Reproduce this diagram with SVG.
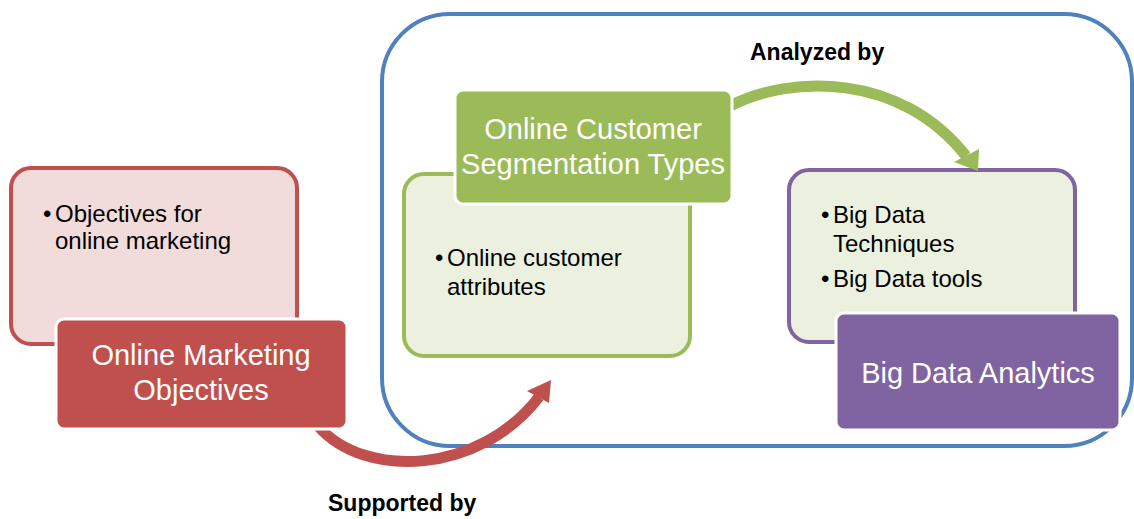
<svg xmlns="http://www.w3.org/2000/svg" width="1134" height="519" viewBox="0 0 1134 519">
  <style>
    .back { stroke-width: 4; }
    .front { stroke: #FFFFFF; stroke-width: 3; }
    .title { font-family: "Liberation Sans", Arial, sans-serif; font-size: 29px; fill: #FFFFFF; text-anchor: middle; }
    .item { font-family: "Liberation Sans", Arial, sans-serif; font-size: 24px; fill: #000000; }
    .label { font-family: "Liberation Sans", Arial, sans-serif; font-size: 23px; font-weight: bold; fill: #000000; }
    .conn { fill: none; stroke-width: 11; }
  </style>

  <rect width="1134" height="519" fill="#FFFFFF"/>

  <!-- container around segmentation and analytics -->
  <g id="container">
    <rect x="382" y="14" width="750" height="432" rx="68" ry="68" fill="none" stroke="#4F81BD" stroke-width="4"/>
  </g>

  <!-- detail panels -->
  <g id="objectives-detail">
    <rect class="back" x="11" y="168" width="286" height="176" rx="20" ry="20" fill="#F2DCDB" stroke="#C0504D"/>
    <text class="item"><tspan x="43" y="222">•</tspan><tspan x="55" y="222">Objectives for</tspan></text>
    <text class="item" x="55" y="249">online marketing</text>
  </g>

  <g id="segmentation-detail">
    <rect class="back" x="404" y="174" width="286" height="182" rx="20" ry="20" fill="#EBF1DE" stroke="#9BBB59"/>
    <text class="item"><tspan x="435" y="266">•</tspan><tspan x="447" y="266">Online customer</tspan></text>
    <text class="item" x="447" y="295">attributes</text>
  </g>

  <g id="analytics-detail">
    <rect class="back" x="789" y="170" width="286" height="172" rx="20" ry="20" fill="#EBF1DE" stroke="#8064A2"/>
    <text class="item"><tspan x="821" y="223">•</tspan><tspan x="833" y="223">Big Data</tspan></text>
    <text class="item" x="833" y="252">Techniques</text>
    <text class="item"><tspan x="821" y="287">•</tspan><tspan x="833" y="287">Big Data tools</tspan></text>
  </g>

  <!-- curved connectors -->
  <g id="connectors">
    <path class="conn" stroke="#C0504D" d="M318 426 C365 480 480 474 539 397"/>
    <polygon fill="#C0504D" points="551,380 549,403 527,391"/>
    <path class="conn" stroke="#9BBB59" d="M730 106 C790 75 900 72 966 156"/>
    <polygon fill="#9BBB59" points="978,171 954,162 979,149"/>
    <text class="label" x="750" y="60">Analyzed by</text>
    <text class="label" x="328" y="511">Supported by</text>
  </g>

  <!-- title boxes -->
  <g id="online-marketing-objectives">
    <rect class="front" x="56" y="319" width="291" height="110" rx="8" ry="8" fill="#C0504D"/>
    <text class="title" x="201" y="365">Online Marketing</text>
    <text class="title" x="201" y="400">Objectives</text>
  </g>

  <g id="online-customer-segmentation">
    <rect class="front" x="455" y="90" width="277" height="114" rx="8" ry="8" fill="#9BBB59"/>
    <text class="title" x="593" y="139">Online Customer</text>
    <text class="title" x="593" y="174">Segmentation Types</text>
  </g>

  <g id="big-data-analytics">
    <rect class="front" x="836" y="313" width="284" height="117" rx="8" ry="8" fill="#8064A2"/>
    <text class="title" x="978" y="383">Big Data Analytics</text>
  </g>
</svg>
